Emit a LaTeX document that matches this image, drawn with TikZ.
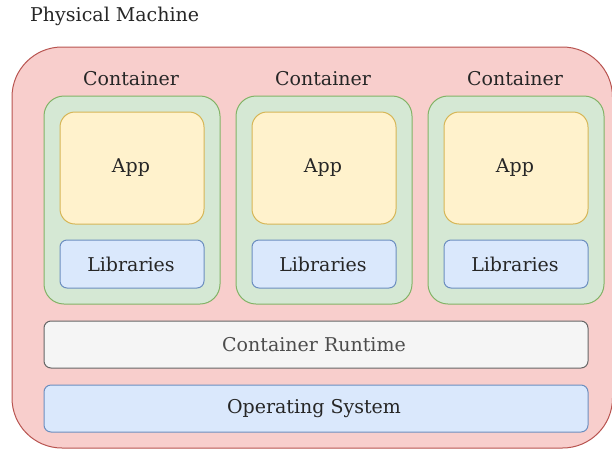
\documentclass[tikz,border=0pt]{standalone}
\usepackage{fontspec}
\setmainfont{DejaVu Serif}
\begin{document}
\begin{tikzpicture}[x=1pt,y=-1pt,
  lbl/.style={font=\fontsize{19}{23}\selectfont, text=black!85, inner sep=0pt},
  box/.style={draw, line width=1pt, rounded corners=#1},
  box/.default=8pt]
\definecolor{redfill}{HTML}{F8CECC}\definecolor{redline}{HTML}{B85450}
\definecolor{greenfill}{HTML}{D5E8D4}\definecolor{greenline}{HTML}{82B366}
\definecolor{yellowfill}{HTML}{FFF2CC}\definecolor{yellowline}{HTML}{D6B656}
\definecolor{bluefill}{HTML}{DAE8FC}\definecolor{blueline}{HTML}{6C8EBF}
\definecolor{greyfill}{HTML}{F5F5F5}\definecolor{greyline}{HTML}{666666}
\useasboundingbox (0,0) rectangle (612,450);

% physical machine
\node[lbl, anchor=west] (pmlabel) at (30,16) {Physical Machine};
\draw[box=50pt, fill=redfill, draw=redline] (12,47) rectangle (612.5,448);

% three containers
\foreach \i/\x in {1/44, 2/236, 3/428} {
  \node[lbl] (clabel\i) at (\x+87,79) {Container};
  \draw[box=20pt, fill=greenfill, draw=greenline] (\x,96) rectangle (\x+176,304);
  \draw[box=15pt, fill=yellowfill, draw=yellowline] (\x+16,112) rectangle (\x+160,224);
  \node[lbl] (app\i) at (\x+87,168) {App};
  \draw[box=7pt, fill=bluefill, draw=blueline] (\x+16,240) rectangle (\x+160,288);
  \node[lbl] (lib\i) at (\x+87,264) {Libraries};
}

% runtime and operating system
\draw[box=7pt, fill=greyfill, draw=greyline] (44,321) rectangle (588,368);
\node[lbl, text=black!70] (runtime) at (314,344.5) {Container Runtime};
\draw[box=7pt, fill=bluefill, draw=blueline] (44,385) rectangle (588,432);
\node[lbl] (os) at (314,408.5) {Operating System};
\end{tikzpicture}
\end{document}
